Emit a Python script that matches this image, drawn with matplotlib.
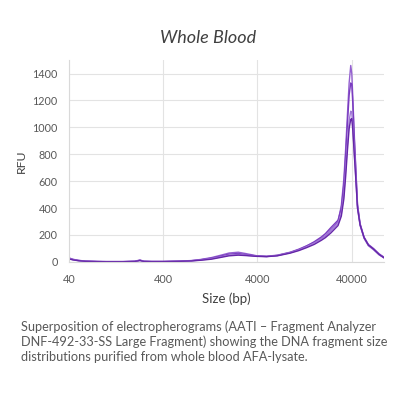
import matplotlib.pyplot as plt
from matplotlib.ticker import FixedLocator, NullLocator, FixedFormatter

plt.rcParams["font.family"] = ["Lato", "DejaVu Sans"]

# size axis (bp) and four electropherogram traces (RFU)
sizes = [40, 44, 50, 60, 80, 100, 150, 200, 227, 250, 300, 400, 600, 800, 1000,
         1300, 1600, 2000, 2500, 3000, 3900, 5000, 6500, 8900, 11000, 13300,
         16000, 19000, 21000, 24000, 26000, 28600, 31000, 33000, 34500, 36000,
         37500, 39000, 40000, 41000, 42500, 44000, 46000, 49000, 54000, 60000,
         68000, 78000, 88000]

rfu_a = [30, 20, 12, 6, 3, 2, 2, 5, 14, 5, 3, 3, 6, 10, 18,
         32, 48, 66, 72, 62, 46, 42, 50, 72, 95, 120,
         145, 175, 195, 240, 265, 300, 420, 620, 850, 1100,
         1330, 1460, 1400, 1230, 950, 720, 430, 285, 185, 130,
         100, 60, 35]
rfu_b = [28, 18, 11, 5, 3, 2, 2, 4, 12, 4, 3, 3, 5, 9, 16,
         28, 42, 58, 62, 55, 44, 40, 48, 70, 92, 118,
         150, 185, 210, 255, 280, 310, 400, 580, 800, 1030,
         1240, 1330, 1320, 1180, 920, 700, 420, 280, 180, 125,
         95, 55, 32]
rfu_c = [25, 17, 10, 5, 2, 2, 2, 4, 11, 4, 2, 2, 4, 8, 14,
         24, 36, 50, 55, 50, 42, 40, 47, 68, 88, 112,
         140, 170, 190, 230, 255, 285, 360, 510, 690, 880,
         1050, 1120, 1110, 1010, 820, 640, 400, 270, 175, 120,
         90, 52, 30]
rfu_d = [22, 15, 9, 4, 2, 1, 1, 3, 10, 3, 2, 2, 4, 7, 12,
         20, 32, 45, 50, 47, 41, 39, 45, 65, 84, 106,
         130, 160, 180, 215, 240, 270, 340, 470, 640, 830,
         990, 1060, 1065, 980, 800, 630, 400, 275, 180, 125,
         95, 55, 30]

traces = [rfu_a, rfu_b, rfu_c, rfu_d]
colors = ["#9460d0", "#7a3cc0", "#a27ad8", "#6526a8"]

x_ticks = [40, 400, 4000, 40000]
y_ticks = [0, 200, 400, 600, 800, 1000, 1200, 1400]

fig = plt.figure(figsize=(3.98, 3.98), dpi=100)
ax = fig.add_axes([0.173, 0.342, 0.792, 0.507])

for rfu, c in zip(traces, colors):
    ax.plot(sizes, rfu, color=c, linewidth=1.0)

ax.set_xscale("log")
ax.set_xlim(40, 88000)
ax.set_ylim(0, 1500)
ax.xaxis.set_major_locator(FixedLocator(x_ticks))
ax.xaxis.set_major_formatter(FixedFormatter([str(t) for t in x_ticks]))
ax.xaxis.set_minor_locator(NullLocator())
ax.set_yticks(y_ticks)

ax.grid(True, color="#e3e3e3", linewidth=0.8)
ax.set_axisbelow(True)
for s in ["top", "right"]:
    ax.spines[s].set_visible(False)
for s in ["left", "bottom"]:
    ax.spines[s].set_color("#d9d9d9")
    ax.spines[s].set_linewidth(0.8)
ax.tick_params(axis="y", length=0, labelsize=7.8, labelcolor="#595959", pad=8)
ax.tick_params(axis="x", length=0, labelsize=7.8, labelcolor="#595959", pad=9)

ax.set_xlabel("Size (bp)", fontsize=9.5, color="#404040", labelpad=5)
ax.set_ylabel("RFU", fontsize=8.8, color="#404040", labelpad=4)

fig.text(0.523, 0.905, "Whole Blood", fontsize=13, style="italic",
         color="#404040", ha="center", va="center")

caption = ("Superposition of electropherograms (AATI \u2013 Fragment Analyzer\n"
           "DNF-492-33-SS Large Fragment) showing the DNA fragment size\n"
           "distributions purified from whole blood AFA-lysate.")
fig.text(0.054, 0.195, caption, fontsize=9.2, color="#595959",
         ha="left", va="top", linespacing=1.27)

fig.savefig("out.png", dpi=100)
